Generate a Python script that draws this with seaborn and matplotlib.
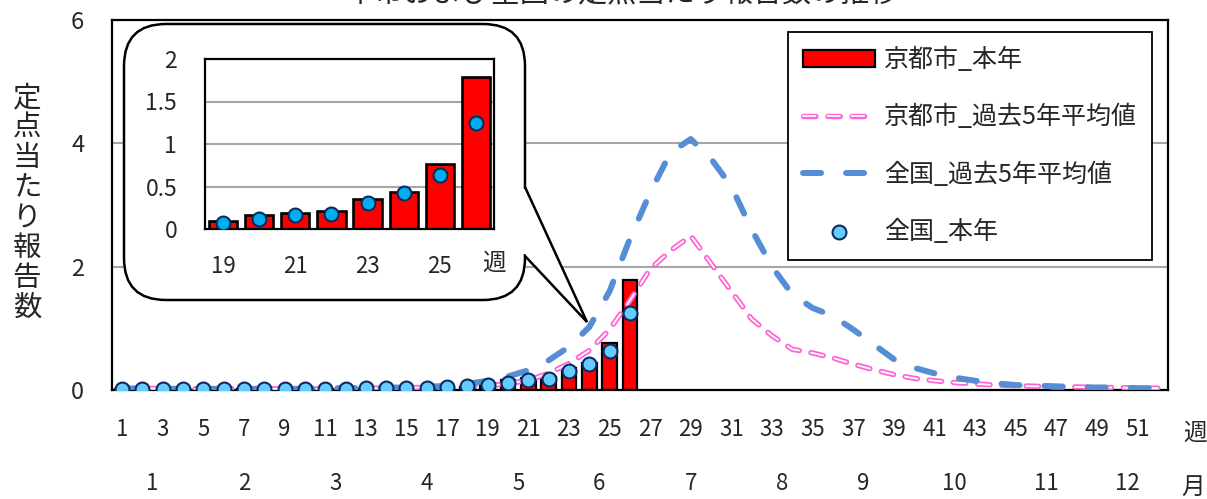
import numpy as np
import pandas as pd
import seaborn as sns
import matplotlib.pyplot as plt
import matplotlib.patheffects as pe
from matplotlib.patches import FancyBboxPatch, Polygon
from matplotlib.transforms import blended_transform_factory

# ---- data ----
title = "本市および全国の定点当たり報告数の推移"
ylabel = "定点当たり報告数"
names = ["京都市_本年", "京都市_過去5年平均値", "全国_過去5年平均値", "全国_本年"]

weeks = list(range(1, 53))
weeks_now = list(range(1, 27))
kyoto_now = [0.02, 0.01, 0.01, 0.01, 0.02, 0.01, 0.02, 0.01, 0.01, 0.02,
             0.02, 0.01, 0.02, 0.03, 0.03, 0.04, 0.04, 0.05,
             0.09, 0.16, 0.19, 0.21, 0.35, 0.43, 0.77, 1.79]
national_now = [0.01, 0.01, 0.01, 0.01, 0.01, 0.01, 0.01, 0.01, 0.02, 0.02,
                0.02, 0.02, 0.03, 0.03, 0.04, 0.04, 0.05, 0.06,
                0.075, 0.12, 0.16, 0.18, 0.31, 0.42, 0.63, 1.25]
kyoto_past5 = [0.03, 0.03, 0.02, 0.02, 0.02, 0.02, 0.02, 0.02, 0.02, 0.02,
               0.02, 0.03, 0.03, 0.03, 0.04, 0.04, 0.05, 0.06,
               0.07, 0.10, 0.16, 0.27, 0.43, 0.64, 0.98, 1.45,
               1.96, 2.26, 2.50, 2.05, 1.60, 1.15, 0.88, 0.66, 0.60, 0.52,
               0.42, 0.33, 0.25, 0.19, 0.15, 0.12, 0.10, 0.08, 0.07, 0.06,
               0.05, 0.05, 0.04, 0.04, 0.03, 0.03]
national_past5 = [0.02, 0.02, 0.02, 0.02, 0.02, 0.02, 0.02, 0.02, 0.02, 0.02,
                  0.03, 0.03, 0.03, 0.04, 0.04, 0.05, 0.07, 0.10,
                  0.15, 0.22, 0.32, 0.48, 0.70, 1.02, 1.60, 2.45,
                  3.20, 3.85, 4.07, 3.75, 3.30, 2.60, 2.00, 1.55, 1.33, 1.20,
                  0.98, 0.74, 0.50, 0.36, 0.27, 0.20, 0.15, 0.11, 0.08, 0.07,
                  0.06, 0.05, 0.04, 0.04, 0.03, 0.03]
month_labels = [str(m) for m in range(1, 13)]
month_first_week = [1, 5, 10, 14, 19, 23, 27, 32, 36, 40, 45, 49]
inset_first = 19

now = pd.DataFrame({"week": weeks_now, "kyoto": kyoto_now, "national": national_now})
past = pd.DataFrame({"week": weeks, "kyoto": kyoto_past5, "national": national_past5})
inset = now[now.week >= inset_first]

# ---- style ----
sns.set_style("white")
plt.rcParams["font.family"] = ["Noto Sans CJK JP", "DejaVu Sans"]
plt.rcParams["lines.scale_dashes"] = False

RED = "#FF0000"
PINK = "#FF66D4"
BLUE = "#558ED5"
DOT = "#66CCFF"
NAVY = "#0B2A5E"
GRID = "#A6A6A6"

W, H = 1207, 499
fig = plt.figure(figsize=(W / 100, H / 100), dpi=100)


def px_box(l, t, r, b):
    return [l / W, 1 - b / H, (r - l) / W, (b - t) / H]


ax = fig.add_axes(px_box(112, 20, 1168, 390))

sns.barplot(data=now, x="week", y="kyoto", native_scale=True, width=0.72,
            color=RED, saturation=1, edgecolor="black", linewidth=1.6,
            errorbar=None, label=names[0], zorder=2, ax=ax)
sns.lineplot(data=past, x="week", y="kyoto", color="white", linewidth=1.3,
             linestyle=(0, (9, 8.5)), dash_capstyle="round",
             path_effects=[pe.Stroke(linewidth=3.9, foreground=PINK), pe.Normal()],
             label=names[1], zorder=3, ax=ax)
sns.lineplot(data=past, x="week", y="national", color=BLUE, linewidth=4.3,
             linestyle=(0, (13, 18)), dash_capstyle="round",
             label=names[2], zorder=4, ax=ax)
sns.scatterplot(data=now, x="week", y="national", s=100, color=DOT,
                edgecolor=NAVY, linewidth=1.5, label=names[3], zorder=5, ax=ax)

ax.set_xlim(0.5, 52.5)
ax.set_ylim(0, 6)
ax.set_yticks([0, 2, 4, 6])
ax.set_xticks(weeks[::2])
ax.set_xticklabels([str(w) for w in weeks[::2]])
ax.tick_params(axis="x", length=0, pad=20, labelsize=16)
ax.tick_params(axis="y", length=0, pad=20, labelsize=17)
ax.set_xlabel("")
ax.set_ylabel("")
ax.yaxis.grid(True, color=GRID, linewidth=1.5)
ax.set_axisbelow(True)
for s in ax.spines.values():
    s.set_color("black")
    s.set_linewidth(1.6)

trans = blended_transform_factory(ax.transData, ax.transAxes)
bounds = month_first_week + [weeks[-1] + 1]
for i, lab in enumerate(month_labels):
    center = (bounds[i] + bounds[i + 1] - 1) / 2
    ax.text(center, -0.252, lab, transform=trans, ha="center", va="center",
            fontsize=16)

handles, labels = ax.get_legend_handles_labels()
lookup = dict(zip(labels, handles))
leg = ax.legend([lookup[n] for n in names], names, loc="upper right",
                bbox_to_anchor=(1152 / W, 1 - 32 / H), bbox_transform=fig.transFigure,
                borderaxespad=0, fontsize=18, handlelength=2.9, handleheight=0.65,
                handletextpad=0.35, labelspacing=1.25, borderpad=0.6,
                frameon=True, fancybox=False, framealpha=1)
leg.get_frame().set_edgecolor("black")
leg.get_frame().set_linewidth(1.3)

fig.text(1195 / W, 1 - 433 / H, "週", ha="center", va="center", fontsize=17)
fig.text(1193 / W, 1 - 487 / H, "月", ha="center", va="center", fontsize=17)
fig.text(27 / W, 1 - 203 / H, "\n".join(ylabel), ha="center", va="center",
         fontsize=20.5, linespacing=1.0)
fig.text(622 / W, 1 - 1 / H, title, ha="center", va="baseline", fontsize=21)

# ---- callout bubble ----
ov = fig.add_axes([0, 0, 1, 1], zorder=1)
ov.set_xlim(0, W)
ov.set_ylim(H, 0)
ov.axis("off")
ov.add_patch(FancyBboxPatch((124, 24), 401, 276,
                            boxstyle="round,pad=0,rounding_size=42",
                            facecolor="white", edgecolor="black", linewidth=1.8))
ov.add_patch(Polygon([(519, 189), (525, 189), (587, 322), (525, 254), (519, 254)],
                     closed=True, facecolor="white", edgecolor="none"))
ov.plot([525, 587, 525], [187, 322, 256], color="black", linewidth=1.8,
        solid_joinstyle="miter")

# ---- inset ----
axi = fig.add_axes(px_box(205, 59, 494, 229), zorder=2)
sns.barplot(data=inset, x="week", y="kyoto", native_scale=True, width=0.78,
            color=RED, saturation=1, edgecolor="black", linewidth=1.9,
            errorbar=None, zorder=2, ax=axi)
sns.scatterplot(data=inset, x="week", y="national", s=100, color="#00AEEF",
                edgecolor=NAVY, linewidth=1.5, zorder=5, legend=False, ax=axi)
axi.set_xlim(inset_first - 0.5, weeks_now[-1] + 0.5)
axi.set_ylim(0, 2)
axi.set_yticks([0, 0.5, 1, 1.5, 2])
axi.set_yticklabels(["0", "0.5", "1", "1.5", "2"])
axi.set_xticks(list(range(inset_first, weeks_now[-1], 2)))
axi.set_xticklabels([str(w) for w in range(inset_first, weeks_now[-1], 2)])
axi.tick_params(axis="x", length=0, pad=19, labelsize=16)
axi.tick_params(axis="y", length=0, pad=20, labelsize=16.5)
axi.set_xlabel("")
axi.set_ylabel("")
axi.yaxis.grid(True, color=GRID, linewidth=1.5)
axi.set_axisbelow(True)
for s in axi.spines.values():
    s.set_color("black")
    s.set_linewidth(1.6)
axi.text(1.0, -0.2, "週", transform=axi.transAxes, ha="center", va="center",
         fontsize=17)

fig.savefig("out.png", dpi=100)
